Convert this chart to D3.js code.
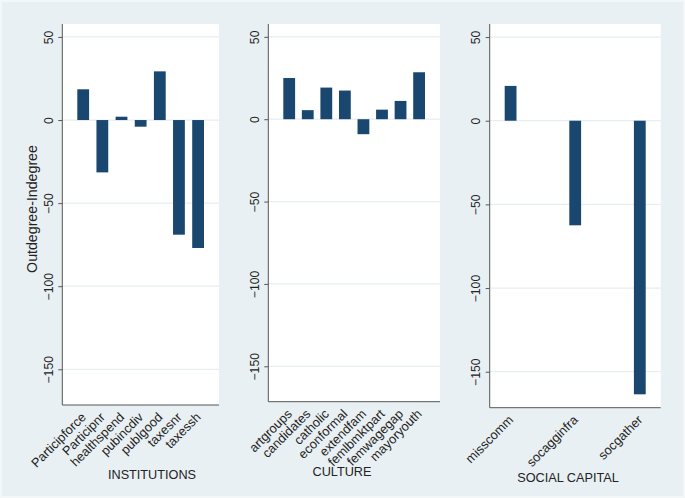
<!DOCTYPE html>
<html><head><meta charset="utf-8">
<script src="https://cdn.jsdelivr.net/npm/d3@7"></script>
<style>
html,body{margin:0;padding:0;background:#f3f7f8;}
svg{display:block;}
text{font-family:"Liberation Sans",Arial,Helvetica,sans-serif;fill:#222;}
</style></head>
<body>
<svg id="chart" width="685" height="498"></svg>
<script>
// ---- data ----
const instCats = ["Participforce","Participnr","healthspend","pubincdiv","publgood","taxesnr","taxessh"];
const instVals = [18.5, -31.5, 2, -4, 29.3, -69, -77];
const cultCats = ["artgroups","candidates","catholic","econformal","extendfam","femlbmktpart","femwagegap","mayoryouth"];
const cultVals = [25, 5.5, 19.2, 17.4, -9.1, 5.8, 11.1, 28.5];
const socCats = ["misscomm","socagginfra","socgather"];
const socVals = [20.8, -62.5, -163.5];
const yTicks = [50, 0, -50, -100, -150];
const panelTitles = ["INSTITUTIONS", "CULTURE", "SOCIAL CAPITAL"];
const yAxisTitle = "Outdegree-Indegree";
const yDomain = [-171.5, 57.8];

// ---- layout ----
const panels = [
  {cats: instCats, vals: instVals, title: panelTitles[0], x0: 62.3, x1: 219, y0: 24, y1: 405, tx: 152, ty: 479, ytitle: true},
  {cats: cultCats, vals: cultVals, title: panelTitles[1], x0: 268.3, x1: 440, y0: 24, y1: 401.7, tx: 342, ty: 476},
  {cats: socCats, vals: socVals, title: panelTitles[2], x0: 489.7, x1: 660.7, y0: 24, y1: 407.7, tx: 568, ty: 482}
];
const barW = 11.8, outerPad = 15;
const bg = "#e9f0f3", grid = "#e6eef1", barColor = "#1a476f", axisColor = "#555";

const svg = d3.select("#chart");
svg.append("rect").attr("x", 2).attr("y", 2).attr("width", 681).attr("height", 494).attr("fill", bg);

panels.forEach(p => {
  const g = svg.append("g");
  const y = d3.scaleLinear().domain(yDomain).range([p.y1, p.y0]);
  const x = d3.scalePoint().domain(p.cats)
    .range([p.x0 + outerPad + barW / 2, p.x1 - outerPad - barW / 2]);

  g.append("rect").attr("x", p.x0).attr("y", p.y0)
    .attr("width", p.x1 - p.x0).attr("height", p.y1 - p.y0).attr("fill", "#fff");

  // gridlines
  g.selectAll(".grid").data(yTicks).join("line")
    .attr("x1", p.x0).attr("x2", p.x1)
    .attr("y1", d => y(d)).attr("y2", d => y(d))
    .attr("stroke", grid).attr("stroke-width", 1.2);

  // bars
  g.selectAll(".bar").data(p.vals).join("rect")
    .attr("x", (d, i) => x(p.cats[i]) - barW / 2)
    .attr("y", d => y(Math.max(0, d)))
    .attr("width", barW)
    .attr("height", d => Math.abs(y(d) - y(0)))
    .attr("fill", barColor);

  // y axis
  const yAx = g.append("g").attr("transform", `translate(${p.x0},0)`)
    .call(d3.axisLeft(y).tickValues(yTicks).tickSize(4).tickPadding(0).tickFormat(d3.format("d")));
  yAx.select(".domain").remove();
  yAx.selectAll(".tick line").attr("stroke", axisColor);
  yAx.selectAll(".tick text")
    .attr("x", 0).attr("y", 0).attr("dy", 0)
    .attr("text-anchor", "middle")
    .attr("transform", "translate(-9.5,0) rotate(-90)")
    .attr("font-size", 12.2).attr("fill", "#222")
    .attr("font-family", "Liberation Sans, Arial, sans-serif");
  g.append("line").attr("x1", p.x0).attr("x2", p.x0).attr("y1", p.y0).attr("y2", p.y1)
    .attr("stroke", axisColor).attr("stroke-width", 1);

  // x axis
  const xAx = g.append("g").attr("transform", `translate(0,${p.y1})`)
    .call(d3.axisBottom(x).tickSize(0).tickPadding(0));
  xAx.select(".domain").remove();
  xAx.selectAll(".tick text")
    .attr("x", 0).attr("y", 0).attr("dy", 0)
    .attr("text-anchor", "end")
    .attr("transform", "translate(3,13) rotate(-45)")
    .attr("font-size", 12.8).attr("fill", "#222")
    .attr("font-family", "Liberation Sans, Arial, sans-serif");
  g.append("line").attr("x1", p.x0).attr("x2", p.x1).attr("y1", p.y1).attr("y2", p.y1)
    .attr("stroke", axisColor).attr("stroke-width", 1);

  // panel title
  g.append("text").attr("x", p.tx).attr("y", p.ty)
    .attr("text-anchor", "middle").attr("font-size", 12.7).text(p.title);

  if (p.ytitle) {
    g.append("text")
      .attr("transform", `translate(36.5,209) rotate(-90)`)
      .attr("text-anchor", "middle").attr("font-size", 14.2).text(yAxisTitle);
  }
});
</script>
</body></html>
